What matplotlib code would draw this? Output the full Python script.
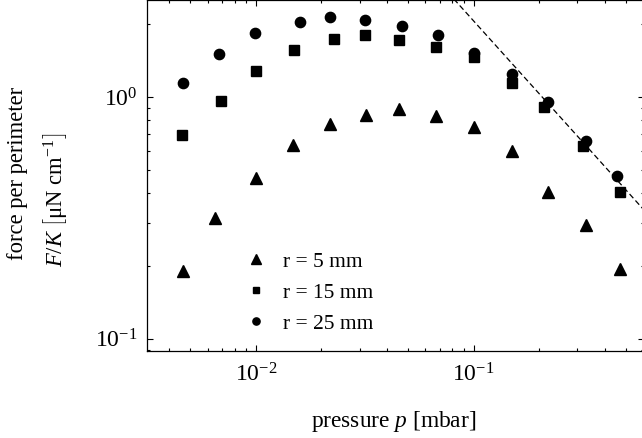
import matplotlib
matplotlib.use('Agg')
import matplotlib.pyplot as plt
from matplotlib.lines import Line2D

plt.rcParams['font.family'] = ['Liberation Serif', 'DejaVu Serif']
plt.rcParams['mathtext.fontset'] = 'custom'
plt.rcParams['mathtext.rm'] = 'Liberation Serif'
plt.rcParams['mathtext.it'] = 'Liberation Serif:italic'

# pressure [mbar] for each series
p_r5 = [0.00461, 0.00647, 0.0100, 0.0148, 0.0219, 0.0321, 0.0456, 0.0674, 0.100, 0.150, 0.219, 0.328, 0.470]
p_r15 = [0.00456, 0.00690, 0.0100, 0.0150, 0.0228, 0.0318, 0.0456, 0.0674, 0.100, 0.150, 0.210, 0.318, 0.470]
p_r25 = [0.00461, 0.00675, 0.0099, 0.0160, 0.0219, 0.0318, 0.0471, 0.0690, 0.100, 0.150, 0.219, 0.328, 0.456]

# force per perimeter F/K [uN/cm]
F_r5 = [0.191, 0.316, 0.463, 0.633, 0.773, 0.843, 0.892, 0.834, 0.751, 0.598, 0.405, 0.296, 0.195]
F_r15 = [0.697, 0.963, 1.28, 1.56, 1.74, 1.80, 1.72, 1.61, 1.46, 1.14, 0.909, 0.628, 0.405]
F_r25 = [1.14, 1.51, 1.84, 2.04, 2.14, 2.08, 1.97, 1.80, 1.52, 1.24, 0.954, 0.658, 0.472]

# high pressure 1/p asymptote (end points)
fit_p = [0.05, 1.0]
fit_F = [4.13, 0.207]

labels = ['r = 5 mm', 'r = 15 mm', 'r = 25 mm']

fig = plt.figure(figsize=(6.42, 4.38), dpi=100)
ax = fig.add_axes([147 / 642, 87 / 438, 497 / 642, 351 / 438])

ax.plot(fit_p, fit_F, color='black', lw=0.9, ls=(0, (4.5, 2.5)), zorder=1)
ax.plot(p_r5, F_r5, '^', color='black', ms=8.6, ls='none', zorder=3)
ax.plot(p_r15, F_r15, 's', color='black', ms=7.0, ls='none', zorder=3)
ax.plot(p_r25, F_r25, 'o', color='black', ms=7.4, ls='none', zorder=3)

ax.set_xscale('log')
ax.set_yscale('log')
ax.set_xlim(0.00316, 0.607)
ax.set_ylim(0.089, 2.52)

ax.tick_params(which='both', direction='in', top=True, right=True, width=0.8, labelsize=17)
ax.tick_params(which='major', length=4.5, pad=7)
ax.tick_params(which='minor', length=2.2)
ax.tick_params(axis='x', which='major', pad=9)
for s in ax.spines.values():
    s.set_linewidth(0.9)

handles = [
    Line2D([], [], marker='^', color='black', ls='none', ms=6.5),
    Line2D([], [], marker='s', color='black', ls='none', ms=5.0),
    Line2D([], [], marker='o', color='black', ls='none', ms=5.2),
]
ax.legend(handles, labels, loc='lower left', bbox_to_anchor=(0.181, 0.025), frameon=False,
          fontsize=15.5, handlelength=1.0, handletextpad=0.75, labelspacing=0.5,
          borderaxespad=0.0)

fig.text(394 / 642, 1 - 421 / 438, 'pressure $p$ [mbar]', ha='center', va='center', fontsize=16.8)
fig.text(18 / 642, 1 - 173 / 438, 'force per perimeter', rotation=90, ha='center', va='center', fontsize=16.3)
fig.text(55 / 642, 1 - 200 / 438, r'$F/K\ \left[\mathrm{μN\ cm}^{-1}\right]$', rotation=90,
         ha='center', va='center', fontsize=16.3)

fig.savefig('out.png', dpi=100)
